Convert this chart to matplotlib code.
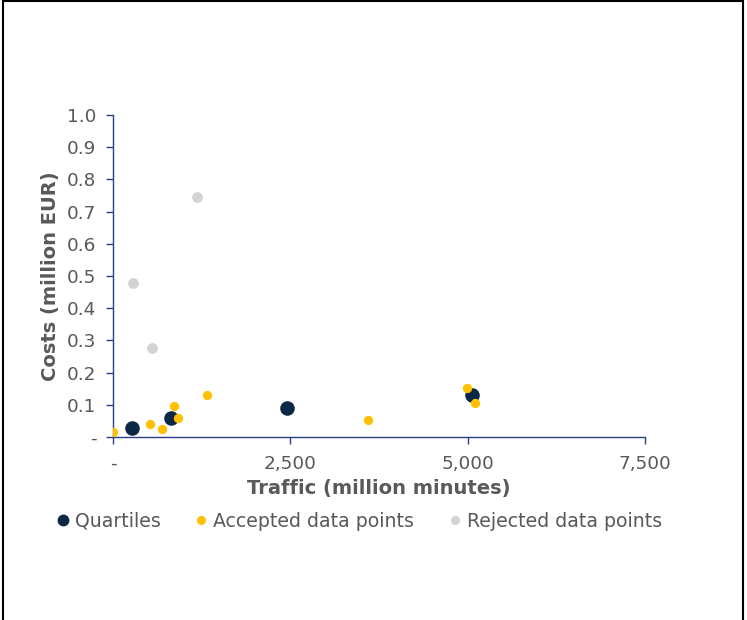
import matplotlib
matplotlib.use("Agg")
import matplotlib.pyplot as plt
from matplotlib.lines import Line2D
from matplotlib.ticker import FuncFormatter

# data
quart_x = [267, 815, 2451, 5059]
quart_y = [0.027, 0.058, 0.089, 0.129]

acc_x = [5, 523, 685, 856, 911, 1319, 3589, 4988, 5109]
acc_y = [0.017, 0.039, 0.024, 0.096, 0.058, 0.129, 0.053, 0.152, 0.104]

rej_x = [277, 554, 1188]
rej_y = [0.477, 0.276, 0.744]

x_ticks = [0, 2500, 5000, 7500]
y_ticks = [0.0, 0.1, 0.2, 0.3, 0.4, 0.5, 0.6, 0.7, 0.8, 0.9, 1.0]

navy = "#0D2847"
yellow = "#FFC000"
grey = "#D3D3D3"
spine_col = "#2B3F86"
txt_col = "#595959"

plt.rcParams["font.family"] = ["DejaVu Sans"]

fig = plt.figure(figsize=(7.47, 6.20), dpi=100)
ax = fig.add_axes([0.1513, 0.2952, 0.712, 0.5193])

ax.scatter(rej_x, rej_y, s=60, color=grey, linewidths=0, zorder=2)
ax.scatter(quart_x, quart_y, s=110, color=navy, linewidths=0, zorder=3)
ax.scatter(acc_x, acc_y, s=45, color=yellow, linewidths=0, zorder=4)

ax.set_xlim(0, 7500)
ax.set_ylim(0, 1.0)
ax.set_xticks(x_ticks)
ax.set_yticks(y_ticks)

def fmt_x(v, pos):
    return "-" if v == 0 else "{:,.0f}".format(v)

def fmt_y(v, pos):
    return "-" if abs(v) < 1e-9 else "{:.1f}".format(v)

ax.xaxis.set_major_formatter(FuncFormatter(fmt_x))
ax.yaxis.set_major_formatter(FuncFormatter(fmt_y))

for s in ["top", "right"]:
    ax.spines[s].set_visible(False)
for s in ["left", "bottom"]:
    ax.spines[s].set_color(spine_col)
    ax.spines[s].set_linewidth(1.0)

ax.tick_params(axis="both", colors=spine_col, labelcolor=txt_col,
               labelsize=13.3, length=5, width=1.0, direction="out")
ax.tick_params(axis="x", pad=8)
ax.tick_params(axis="y", pad=7)

ax.set_xlabel("Traffic (million minutes)", fontsize=14, fontweight="bold",
              color=txt_col, labelpad=4)
ax.set_ylabel("Costs (million EUR)", fontsize=14, fontweight="bold",
              color=txt_col, labelpad=5)

handles = [
    Line2D([], [], marker="o", linestyle="", color=navy, markersize=7.5),
    Line2D([], [], marker="o", linestyle="", color=yellow, markersize=5.5),
    Line2D([], [], marker="o", linestyle="", color=grey, markersize=5.5),
]
labels = ["Quartiles", "Accepted data points", "Rejected data points"]
fig.legend(handles, labels, loc="center", bbox_to_anchor=(0.482, 0.159),
           ncol=3, frameon=False, fontsize=13.6, handlelength=0.5,
           handletextpad=0.4, columnspacing=1.9, labelcolor=txt_col)

# outer frame (top, left, right)
fig.add_artist(Line2D([0.004, 0.004], [0, 0.998], transform=fig.transFigure,
                      color="black", linewidth=1.5))
fig.add_artist(Line2D([0.994, 0.994], [0, 0.998], transform=fig.transFigure,
                      color="black", linewidth=1.5))
fig.add_artist(Line2D([0.004, 0.994], [0.998, 0.998], transform=fig.transFigure,
                      color="black", linewidth=1.5))

fig.savefig("out.png", dpi=100)
